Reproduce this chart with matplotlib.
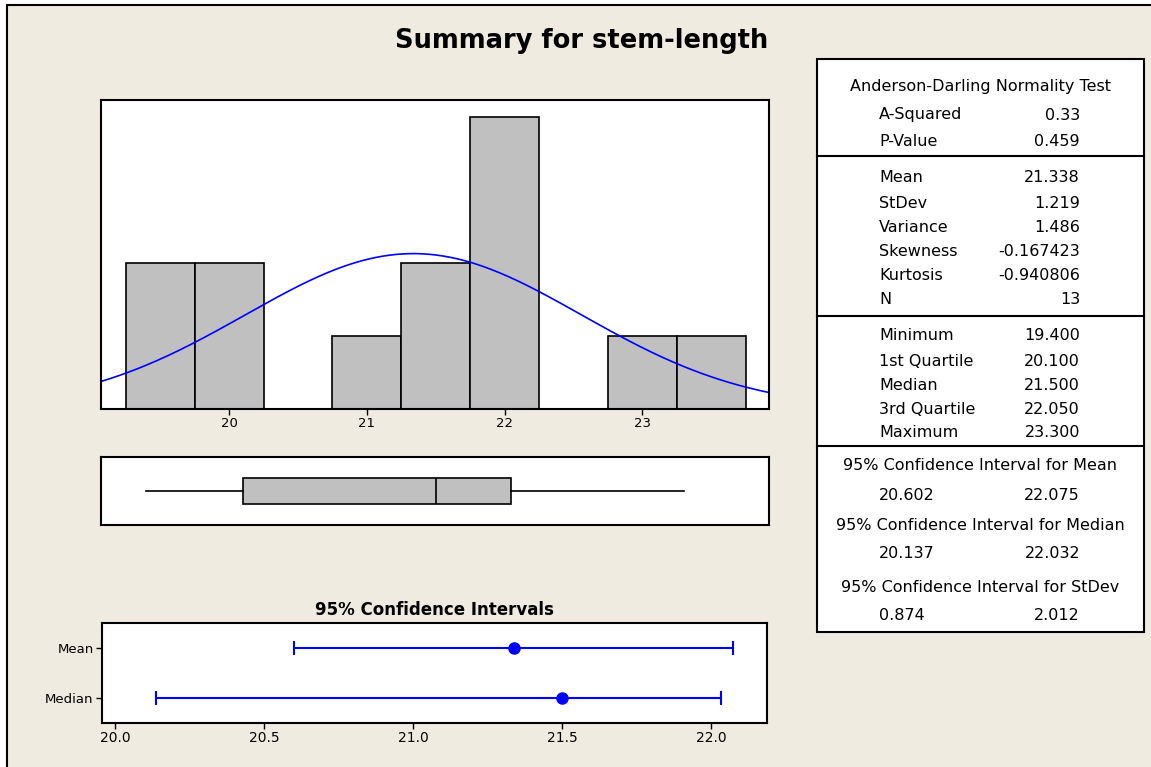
import matplotlib.pyplot as plt
import numpy as np
from matplotlib.patches import Rectangle
from matplotlib.lines import Line2D

# data
bin_edges = [19.25, 19.75, 20.25, 20.75, 21.25, 21.75, 22.25, 22.75, 23.25, 23.75]
counts = [2, 2, 0, 1, 2, 4, 0, 1, 1]
mean = 21.338
stdev = 1.219
n = 13
minimum, q1, median, q3, maximum = 19.4, 20.1, 21.5, 22.05, 23.3
ci_mean = [20.602, 22.075]
ci_median = [20.137, 22.032]
ci_stdev = [0.874, 2.012]

ad_rows = [("A-Squared", "0.33"), ("P-Value", "0.459")]
moment_rows = [("Mean", "21.338"), ("StDev", "1.219"), ("Variance", "1.486"),
               ("Skewness", "-0.167423"), ("Kurtosis", "-0.940806"), ("N", "13")]
quant_rows = [("Minimum", "19.400"), ("1st Quartile", "20.100"), ("Median", "21.500"),
              ("3rd Quartile", "22.050"), ("Maximum", "23.300")]
ci_rows = [("95% Confidence Interval for Mean", ci_mean),
           ("95% Confidence Interval for Median", ci_median),
           ("95% Confidence Interval for StDev", ci_stdev)]

W, H = 1151, 767
beige = '#EFEBE0'
grey = '#C0C0C0'
blue = '#0000FF'

plt.rcParams['font.family'] = 'DejaVu Sans'
fig = plt.figure(figsize=(W / 100, H / 100), dpi=100, facecolor='white')


def fx(x):
    return x / W


def fy(y):
    return 1 - y / H


def axrect(x0, y0, x1, y1):
    return [fx(x0), fy(y1), fx(x1) - fx(x0), fy(y0) - fy(y1)]


# beige panel (runs off the right and bottom edges)
fig.patches.append(Rectangle((fx(7), -0.2), 1.2, fy(5) + 0.2, transform=fig.transFigure,
                             facecolor=beige, edgecolor='black', linewidth=1.5, zorder=-10))

fig.text(fx(582), fy(41), "Summary for stem-length", ha='center', va='center',
         fontsize=18.5, fontweight='bold')

# histogram
ax1 = fig.add_axes(axrect(101, 100, 769, 409))
widths = np.diff(bin_edges)
ax1.bar(bin_edges[:-1], counts, width=widths, align='edge', color=grey,
        edgecolor='black', linewidth=1.2)
xs = np.linspace(19.07, 23.92, 300)
pdf = np.exp(-0.5 * ((xs - mean) / stdev) ** 2) / (stdev * np.sqrt(2 * np.pi))
ax1.plot(xs, pdf * n * 0.5, color=blue, linewidth=1.2)
ax1.set_xlim(19.07, 23.92)
ax1.set_ylim(0, 4.23)
ax1.set_xticks([20, 21, 22, 23])
ax1.set_yticks([])
ax1.tick_params(axis='x', length=4, width=1, labelsize=9.5, pad=2)

# boxplot
ax2 = fig.add_axes(axrect(101, 457, 769, 525))
ax2.bxp([{'whislo': minimum, 'q1': q1, 'med': median, 'q3': q3, 'whishi': maximum}],
        vert=False, widths=0.37, patch_artist=True, showfliers=False, showcaps=False,
        boxprops=dict(facecolor=grey, edgecolor='black', linewidth=1.2),
        medianprops=dict(color='black', linewidth=1.2),
        whiskerprops=dict(color='black', linewidth=1.2))
ax2.set_xlim(19.07, 23.92)
ax2.set_ylim(0.5, 1.5)
ax2.set_xticks([])
ax2.set_yticks([])

# confidence intervals
ax3 = fig.add_axes(axrect(102, 623, 767, 723))
ax3.errorbar([mean], [2], xerr=[[mean - ci_mean[0]], [ci_mean[1] - mean]], fmt='o',
             color=blue, markersize=8, elinewidth=1.5, capsize=5, capthick=1.5)
ax3.errorbar([median], [1], xerr=[[median - ci_median[0]], [ci_median[1] - median]], fmt='o',
             color=blue, markersize=8, elinewidth=1.5, capsize=5, capthick=1.5)
ax3.set_xlim(19.956, 22.188)
ax3.set_ylim(0.5, 2.5)
ax3.set_xticks([20.0, 20.5, 21.0, 21.5, 22.0])
ax3.set_xticklabels(["20.0", "20.5", "21.0", "21.5", "22.0"])
ax3.set_yticks([2, 1])
ax3.set_yticklabels(["Mean", "Median"])
ax3.tick_params(axis='x', length=4, width=1, labelsize=10, pad=2)
ax3.tick_params(axis='y', length=4, width=1, labelsize=9.5, pad=2)
ax3.set_title("95% Confidence Intervals", fontsize=12, fontweight='bold', pad=6)

for ax in (ax1, ax2, ax3):
    for s in ax.spines.values():
        s.set_linewidth(1.5)

# stats table
fig.patches.append(Rectangle((fx(817), fy(632)), fx(1144) - fx(817), fy(59) - fy(632),
                             transform=fig.transFigure, facecolor='white',
                             edgecolor='black', linewidth=1.5, zorder=1))
for ysep in (156, 316, 446):
    fig.lines.append(Line2D([fx(817), fx(1144)], [fy(ysep), fy(ysep)],
                            transform=fig.transFigure, color='black', linewidth=1.5))

fs = 11.5
lx, rx, cx = 879, 1080, 980
fig.text(fx(cx), fy(86), "Anderson-Darling Normality Test", ha='center', va='center', fontsize=fs)
for (lab, val), y in zip(ad_rows, [115, 142]):
    fig.text(fx(lx), fy(y), lab, ha='left', va='center', fontsize=fs)
    fig.text(fx(rx), fy(y), val, ha='right', va='center', fontsize=fs)
for (lab, val), y in zip(moment_rows, [178, 203, 227, 252, 276, 300]):
    fig.text(fx(lx), fy(y), lab, ha='left', va='center', fontsize=fs)
    fig.text(fx(rx), fy(y), val, ha='right', va='center', fontsize=fs)
for (lab, val), y in zip(quant_rows, [336, 362, 386, 409, 433]):
    fig.text(fx(lx), fy(y), lab, ha='left', va='center', fontsize=fs)
    fig.text(fx(rx), fy(y), val, ha='right', va='center', fontsize=fs)
for (lab, vals), y in zip(ci_rows, [466, 525, 587]):
    fig.text(fx(cx), fy(y), lab, ha='center', va='center', fontsize=fs)
    fig.text(fx(lx), fy(y + 29), f"{vals[0]:.3f}", ha='left', va='center', fontsize=fs)
    fig.text(fx(rx), fy(y + 29), f"{vals[1]:.3f}", ha='right', va='center', fontsize=fs)

fig.savefig('out.png', dpi=100, facecolor='white')
